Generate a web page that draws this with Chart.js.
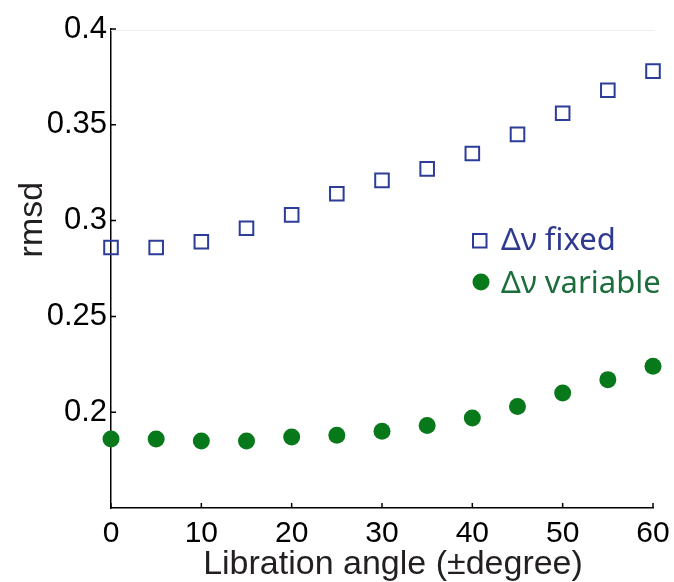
<!DOCTYPE html>
<html>
<head>
<meta charset="utf-8">
<script src="https://cdn.jsdelivr.net/npm/chart.js@4.4.1/dist/chart.umd.min.js"></script>
<style>
html,body{margin:0;padding:0;background:#fff;}
#wrap{width:674px;height:582px;}
</style>
</head>
<body>
<div id="wrap"><canvas id="c" width="674" height="582"></canvas></div>
<script>
// libration angle (degrees)
const angles = [0, 5, 10, 15, 20, 25, 30, 35, 40, 45, 50, 55, 60];
// rmsd, delta-nu fixed
const rmsdFixed = [0.286, 0.286, 0.289, 0.296, 0.303, 0.314, 0.321, 0.327, 0.335, 0.345, 0.356, 0.368, 0.378];
// rmsd, delta-nu variable
const rmsdVariable = [0.186, 0.186, 0.185, 0.185, 0.187, 0.188, 0.190, 0.193, 0.197, 0.203, 0.210, 0.217, 0.224];

const xTicks = [0, 10, 20, 30, 40, 50, 60];
const yTicks = [0.2, 0.25, 0.3, 0.35, 0.4];

const seriesNames = ["\u0394\u03bd fixed", "\u0394\u03bd variable"];
const xTitle = "Libration angle (\u00b1degree)";
const yTitle = "rmsd";

const blue = "#2b3c99";
const green = "#08791a";

const toPts = (ys) => angles.map((a, i) => ({x: a, y: ys[i]}));

// inner ticks, axis titles and legend
const extras = {
  id: "extras",
  afterDraw(chart) {
    const ctx = chart.ctx;
    const xs = chart.scales.x, ys = chart.scales.y;
    const a = chart.chartArea;
    ctx.save();
    // faint box top
    ctx.strokeStyle = "#f0f0f0";
    ctx.lineWidth = 1;
    ctx.beginPath();
    ctx.moveTo(a.left, a.top + 1.5);
    ctx.lineTo(a.right + 2, a.top + 1.5);
    ctx.stroke();

    ctx.strokeStyle = "#000";
    ctx.lineWidth = 1.5;
    ctx.beginPath();
    xTicks.forEach(v => {
      const p = xs.getPixelForValue(v);
      ctx.moveTo(p, a.bottom);
      ctx.lineTo(p, a.bottom - 5);
    });
    yTicks.forEach(v => {
      const p = ys.getPixelForValue(v);
      ctx.moveTo(a.left, p);
      ctx.lineTo(a.left + 5, p);
    });
    ctx.stroke();

    // axis titles
    ctx.fillStyle = "#231f20";
    ctx.font = "34px 'Liberation Sans', Arial, sans-serif";
    ctx.textAlign = "center";
    ctx.textBaseline = "alphabetic";
    ctx.fillText(xTitle, 393, 574);
    ctx.save();
    ctx.translate(42, ys.getPixelForValue(0.3) - 1);
    ctx.rotate(-Math.PI / 2);
    ctx.fillText(yTitle, 0, 0);
    ctx.restore();

    // legend
    ctx.font = "31px 'Noto Sans', 'Open Sans', sans-serif";
    ctx.textAlign = "left";
    ctx.textBaseline = "alphabetic";
    ctx.strokeStyle = blue;
    ctx.lineWidth = 2;
    ctx.strokeRect(473, 234, 13.5, 13.5);
    ctx.fillStyle = "#2e3a90";
    ctx.fillText(seriesNames[0], 501, 250);
    ctx.fillStyle = green;
    ctx.beginPath();
    ctx.arc(481, 282, 8.5, 0, Math.PI * 2);
    ctx.fill();
    ctx.fillStyle = "#1b6e3c";
    ctx.fillText(seriesNames[1], 501, 293);
    ctx.restore();
  }
};

new Chart(document.getElementById("c"), {
  type: "scatter",
  data: {
    datasets: [
      {
        label: seriesNames[0],
        data: toPts(rmsdFixed),
        pointStyle: "rect",
        pointRadius: 9.6,
        pointHoverRadius: 9.6,
        borderColor: blue,
        borderWidth: 2,
        backgroundColor: "rgba(0,0,0,0)",
        clip: false
      },
      {
        label: seriesNames[1],
        data: toPts(rmsdVariable),
        pointStyle: "circle",
        pointRadius: 8.5,
        pointHoverRadius: 8.5,
        borderWidth: 0,
        backgroundColor: green,
        clip: false
      }
    ]
  },
  options: {
    responsive: false,
    animation: false,
    events: [],
    layout: {padding: {top: 29, right: 21, left: 0, bottom: 0}},
    plugins: {legend: {display: false}, tooltip: {enabled: false}},
    scales: {
      x: {
        type: "linear",
        min: 0, max: 60,
        afterBuildTicks: (s) => { s.ticks = xTicks.map(v => ({value: v})); },
        afterFit: (s) => { s.height = 74; s.paddingLeft = 0; s.paddingRight = 0; },
        grid: {display: false, drawTicks: false},
        border: {display: true, color: "#000", width: 1.5},
        ticks: {
          color: "#000",
          padding: 8,
          maxRotation: 0,
          font: {family: "'Liberation Sans', Arial, sans-serif", size: 30}
        }
      },
      y: {
        min: 0.15, max: 0.4,
        afterBuildTicks: (s) => { s.ticks = yTicks.map(v => ({value: v})); },
        afterFit: (s) => { s.width = 111; },
        grid: {display: false, drawTicks: false},
        border: {display: true, color: "#000", width: 1.5},
        ticks: {
          color: "#000",
          padding: 4,
          callback: (v) => String(+v.toFixed(2)),
          font: {family: "'Liberation Sans', Arial, sans-serif", size: 31}
        }
      }
    }
  },
  plugins: [extras]
});
</script>
</body>
</html>
